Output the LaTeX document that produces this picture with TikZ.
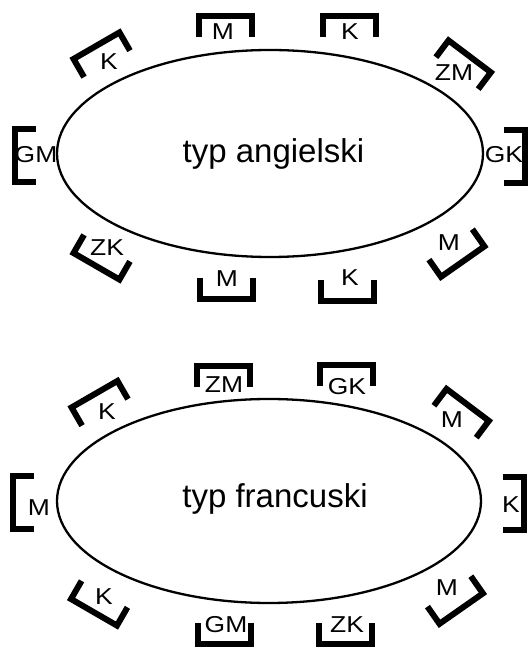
\documentclass[tikz,border=0pt]{standalone}
\usepackage{fontspec}
\setmainfont{Liberation Sans}
\newfontfamily\seatfont[FakeStretch=1.15]{Liberation Sans}
\usetikzlibrary{shapes.geometric}

\tikzset{
  bracketline/.style={line width=6pt, line join=miter, line cap=butt},
  % seat bracket: bar on the far side, legs pointing towards the table
  brk/.pic={\draw[bracketline] (-26.5,-21) -- (-26.5,0) -- (26.5,0) -- (26.5,-21);},
  table/.style={draw, ellipse, line width=2.3pt, inner sep=0pt},
  seat/.style={inner sep=0pt, font=\seatfont\fontsize{23}{23}\selectfont},
  title/.style={inner sep=0pt, anchor=base, font=\fontsize{33}{33}\selectfont},
}

\begin{document}
\begin{tikzpicture}[x=1pt, y=1pt]
\useasboundingbox (0,0) rectangle (528,649);

% ---------- English arrangement ----------
\node[table, minimum width=426pt, minimum height=207pt] (eng) at (270,495.5) {};
\node[title] (engt) at (273.5,486) {typ angielski};

\pic[rotate=30]  at (96.5,603.3) {brk};
\pic             at (225.5,633) {brk};
\pic             at (349,633) {brk};
\pic[rotate=-37] at (469.7,592.6) {brk};
\pic[rotate=-90] at (525,492) {brk};
\pic[rotate=90]  at (14.5,493.5) {brk};
\pic[rotate=150] at (96.5,382.7) {brk};
\pic[rotate=180] at (226,350) {brk};
\pic[rotate=180] at (347.5,348) {brk};
\pic[rotate=215] at (462.7,387.4) {brk};

\node[seat] (e1)  at (109,587) {K};
\node[seat] (e2)  at (223,617) {M};
\node[seat] (e3)  at (350,617) {K};
\node[seat] (e4)  at (454,576) {ZM};
\node[seat] (e5)  at (504,494) {GK};
\node[seat] (e6)  at (36,494) {GM};
\node[seat] (e7)  at (107,401) {ZK};
\node[seat] (e8)  at (227,370) {M};
\node[seat] (e9)  at (350,371) {K};
\node[seat] (e10) at (449,406) {M};

% ---------- French arrangement ----------
\node[table, minimum width=424pt, minimum height=204pt] (fra) at (269,148) {};
\node[title] (frat) at (275,141) {typ francuski};

\pic[rotate=30]  at (94.5,254.8) {brk};
\pic             at (223.5,283) {brk};
\pic             at (346.5,284) {brk};
\pic[rotate=-37] at (467.7,244.1) {brk};
\pic[rotate=-90] at (524,145.5) {brk};
\pic[rotate=90]  at (13,146.5) {brk};
\pic[rotate=150] at (94,36.7) {brk};
\pic[rotate=180] at (224,5) {brk};
\pic[rotate=180] at (345,5) {brk};
\pic[rotate=215] at (461.2,40.4) {brk};

\node[seat] (f1)  at (107,237) {K};
\node[seat] (f2)  at (224,264) {ZM};
\node[seat] (f3)  at (347,262) {GK};
\node[seat] (f4)  at (452,229) {M};
\node[seat] (f5)  at (511,144) {K};
\node[seat] (f6)  at (39,141) {M};
\node[seat] (f7)  at (104,52) {K};
\node[seat] (f8)  at (226,24) {GM};
\node[seat] (f9)  at (347,24) {ZK};
\node[seat] (f10) at (447,61) {M};
\end{tikzpicture}
\end{document}
